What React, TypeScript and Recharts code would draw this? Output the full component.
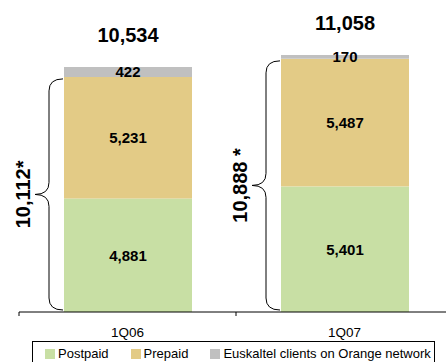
import { BarChart, Bar, XAxis, YAxis, LabelList } from 'recharts';

const categories = ['1Q06', '1Q07'];
const postpaid = [4881, 5401];
const prepaid = [5231, 5487];
const euskaltel = [422, 170];
const totals = [10534, 11058];
const braceLabels = ['10,112*', '10,888 *'];

const data = categories.map((q, i) => ({
  q,
  postpaid: postpaid[i],
  prepaid: prepaid[i],
  euskaltel: euskaltel[i],
  total: totals[i],
  brace: braceLabels[i],
}));

const FONT = '"Liberation Sans", Arial, sans-serif';

const LEGEND = [
  { color: '#C8DFA4', label: 'Postpaid' },
  { color: '#E3CB86', label: 'Prepaid' },
  { color: '#C0C0C0', label: 'Euskaltel clients on Orange network' },
];

const fmt = (v: number) => v.toLocaleString('en-US');

// prepaid segment plus the curly brace spanning prepaid + postpaid
function BraceShape(props: any) {
  const { x, y, width, height, fill, payload } = props;
  const ppu = height / payload.prepaid;
  const base = y + height + payload.postpaid * ppu;
  const top = y + 2;
  const bot = base - 2;
  const mid = (top + bot) / 2;
  const bx = x - 1;
  const vx = x - 15;
  const tx = x - 29;
  const r = 12;
  const d = `M${bx},${top} Q${vx},${top} ${vx},${top + r} L${vx},${mid - r} Q${vx},${mid} ${tx},${mid} Q${vx},${mid} ${vx},${mid + r} L${vx},${bot - r} Q${vx},${bot} ${bx},${bot}`;
  return (
    <g>
      <rect x={x} y={y} width={width} height={height} fill={fill} />
      <path d={d} fill="none" stroke="#000" strokeWidth={1} />
      <text
        x={tx - 12}
        y={mid}
        transform={`rotate(-90 ${tx - 12} ${mid})`}
        textAnchor="middle"
        dominantBaseline="central"
        fontFamily={FONT}
        fontSize={20}
        fontWeight="bold"
        fill="#000"
      >
        {payload.brace}
      </text>
    </g>
  );
}

function CatTick(props: any) {
  const { x, y, payload } = props;
  const off = payload.offset || 108.5;
  return (
    <g>
      <line x1={x - off} y1={y - 4} x2={x - off} y2={y} stroke="#000" />
      <text x={x} y={y + 21} textAnchor="middle" fontFamily={FONT} fontSize={13.5} fill="#000">
        {payload.value}
      </text>
    </g>
  );
}

function TotalLabel(props: any) {
  const { x, y, width, value } = props;
  return (
    <text x={x + width / 2} y={y - 25} textAnchor="middle" fontFamily={FONT} fontSize={20} fontWeight="bold" fill="#000">
      {fmt(value)}
    </text>
  );
}

const inner = { fontFamily: FONT, fontSize: 15, fontWeight: 'bold', fill: '#000' };

export default function App() {
  return (
    <div style={{ position: 'absolute', left: 0, top: 0, width: 446, height: 362, overflow: 'hidden', background: '#fff' }}>
      <BarChart width={453} height={362} data={data} margin={{ top: 33, right: 0, left: 19, bottom: 20 }} barSize={128}>
        <XAxis
          dataKey="q"
          height={30}
          axisLine={{ stroke: '#000' }}
          tickLine={false}
          tickSize={4}
          tickMargin={0}
          tick={<CatTick />}
          interval={0}
        />
        <YAxis hide domain={[0, 12000]} />
        <Bar dataKey="postpaid" stackId="a" fill="#C8DFA4" isAnimationActive={false}>
          <LabelList dataKey="postpaid" position="center" formatter={fmt} style={inner} />
        </Bar>
        <Bar dataKey="prepaid" stackId="a" fill="#E3CB86" shape={<BraceShape />} isAnimationActive={false}>
          <LabelList dataKey="prepaid" position="center" formatter={fmt} style={inner} />
        </Bar>
        <Bar dataKey="euskaltel" stackId="a" fill="#C0C0C0" isAnimationActive={false}>
          <LabelList dataKey="euskaltel" position="center" formatter={fmt} style={inner} />
          <LabelList dataKey="total" content={<TotalLabel />} />
        </Bar>
      </BarChart>
      <div
        style={{
          position: 'absolute',
          left: 32,
          top: 341,
          width: 403,
          height: 30,
          border: '1px solid #000',
          display: 'flex',
          alignItems: 'flex-start',
          paddingLeft: 12,
          paddingTop: 4,
          boxSizing: 'border-box',
          fontFamily: FONT,
          fontSize: 13,
          gap: 22,
        }}
      >
        {LEGEND.map((l) => (
          <div key={l.label} style={{ display: 'flex', alignItems: 'center', lineHeight: '15px' }}>
            <div style={{ width: 10, height: 10, background: l.color, marginRight: 3 }} />
            <span>{l.label}</span>
          </div>
        ))}
      </div>
    </div>
  );
}
